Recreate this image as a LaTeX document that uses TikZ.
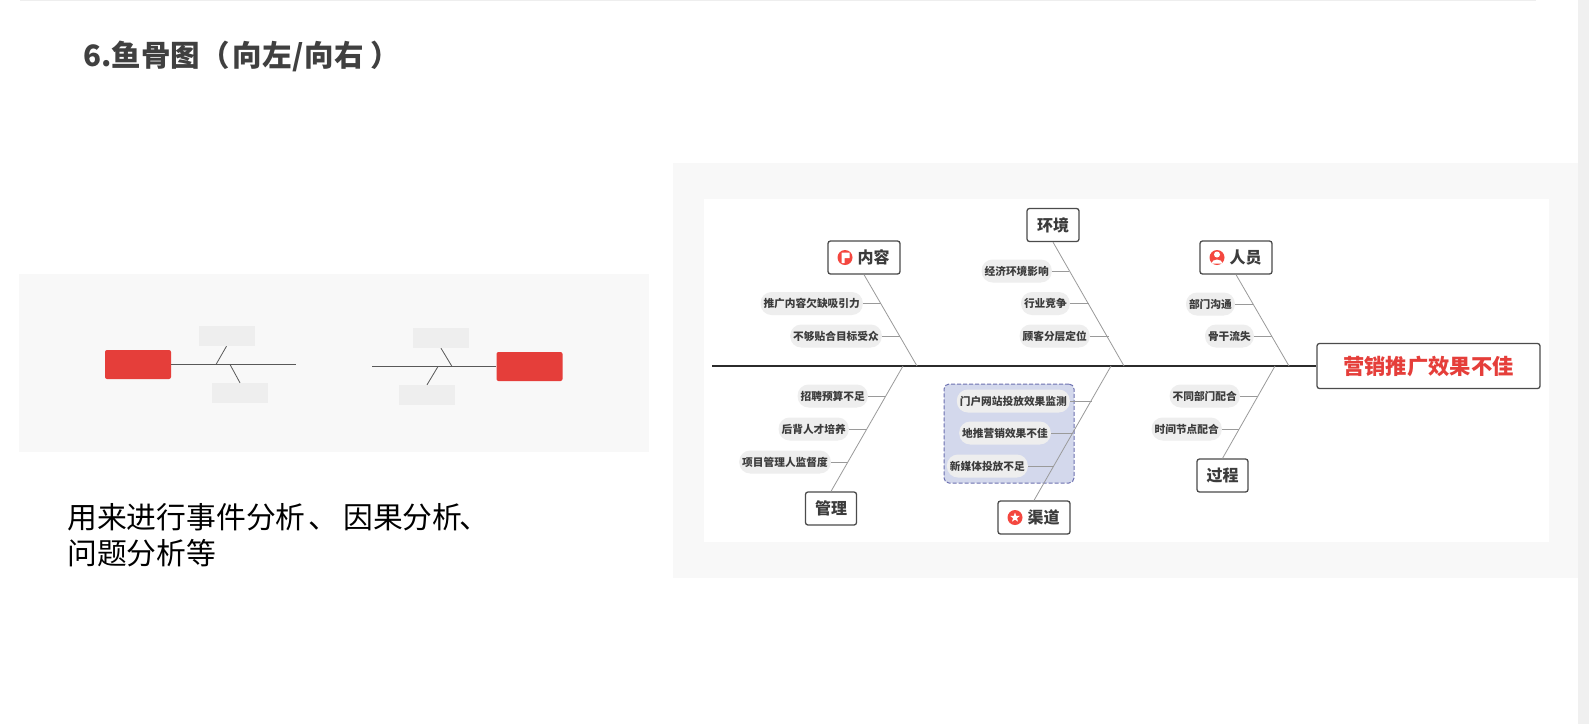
\documentclass[tikz,border=0pt]{standalone}
\usepackage{fontspec}
\setmainfont{Noto Sans CJK SC}
\usetikzlibrary{shapes.geometric}
\definecolor{panelgray}{HTML}{F8F8F8}
\definecolor{barred}{HTML}{E53E3A}
\definecolor{iconred}{HTML}{F4473F}
\definecolor{pillgray}{HTML}{EEEEEE}
\definecolor{bonegray}{HTML}{9A9A9A}
\definecolor{inkdark}{HTML}{2B2B2B}
\definecolor{inksoft}{HTML}{3C3C3C}
\definecolor{dashblue}{HTML}{6C70B0}
\definecolor{dashfill}{HTML}{D3D8EC}

\begin{document}
\begin{tikzpicture}[x=1pt,y=-1pt]
    \tikzset{panel/.style = {fill=panelgray,draw=none}}
    \tikzset{headbox/.style = {shape=rectangle,fill=barred,rounded corners=2pt,minimum width=66pt,minimum height=29pt,inner sep=0pt}}
    \tikzset{blank/.style = {shape=rectangle,fill=pillgray,minimum width=56pt,minimum height=20pt,inner sep=0pt}}
    \tikzset{thin bone/.style = {draw=black!65,line width=0.8pt}}
    \tikzset{thin spine/.style = {draw=black!65,line width=1pt}}
    \tikzset{topic/.style = {shape=rectangle,draw=inkdark!85,fill=white,line width=1.3pt,rounded corners=2.5pt,minimum height=33pt,inner sep=0pt,font=\fontsize{16}{16}\bfseries\selectfont,text=inksoft}}
    \tikzset{pill/.style = {shape=rectangle,fill=pillgray,rounded corners=11pt,minimum height=23pt,inner xsep=3pt,inner ysep=0pt,anchor=east,font=\fontsize{10.7}{11}\bfseries\selectfont,text=inksoft}}
    \tikzset{icon/.style = {shape=circle,fill=iconred,minimum size=15pt,inner sep=0pt}}
    \tikzset{bone/.style = {draw=bonegray,line width=0.8pt}}
    \tikzset{twig/.style = {draw=bonegray,line width=0.8pt}}
    \useasboundingbox (0,0) rectangle (1589,724);

    % page
    \fill[white] (0,0) rectangle (1589,724);
    \fill[pillgray] (20,0) rectangle (1536,1);
    \fill[black!6] (1578,0) rectangle (1589,724);
    \fill[panel] (19,274) rectangle (649,452);
    \fill[panel] (673,163) rectangle (1578,578);
    \fill[white] (704,199) rectangle (1549,542);

    \node[anchor=west,inner sep=0pt,text=black!75,font=\fontsize{29.5}{30}\bfseries\selectfont] (title) at (83,56) {6.鱼骨图（\hspace{3pt}向左\hspace{1pt}/\hspace{1pt}向右\hspace{7pt}）};
    \node[anchor=west,inner sep=0pt,text=black,font=\fontsize{29.8}{36}\selectfont] (lineone) at (67,517) {用来进行事件分析\hspace{3pt}、\hspace{5pt}因果分析\hspace{-3pt}、};
    \node[anchor=west,inner sep=0pt,text=black,font=\fontsize{29.8}{36}\selectfont] (linetwo) at (67,553) {问题分析等};

    % small fishbone, head on the left
    \node[headbox] (lhead) at (138,364.5) {};
    \node[blank] (lup) at (226.5,336) {};
    \node[blank] (ldown) at (240,393) {};
    \coordinate (ltail) at (296,364.5);
    \coordinate (lupfoot) at (216,364.5);
    \coordinate (ldownfoot) at (230,364.5);
    \draw[thin spine] (lhead) to (ltail);
    \draw[thin bone] (lup.south) to (lupfoot);
    \draw[thin bone] (ldown.north) to (ldownfoot);

    % small fishbone, head on the right
    \node[headbox] (rhead) at (529.5,366.5) {};
    \node[blank] (rup) at (441,338) {};
    \node[blank] (rdown) at (427,395) {};
    \coordinate (rtail) at (372,366.5);
    \coordinate (rupfoot) at (452,366.5);
    \coordinate (rdownfoot) at (438,366.5);
    \draw[thin spine] (rtail) to (rhead);
    \draw[thin bone] (rup.south) to (rupfoot);
    \draw[thin bone] (rdown.north) to (rdownfoot);

    % big fishbone
    \node[shape=rectangle,draw=dashblue,fill=dashfill,dash pattern=on 4pt off 2pt,line width=1pt,rounded corners=5pt,minimum width=130pt,minimum height=99pt,inner sep=0pt] (group) at (1009,433.5) {};
    \node[shape=rectangle,draw=black!70,fill=white,line width=1.3pt,rounded corners=2.5pt,minimum width=223pt,minimum height=45pt,inner sep=0pt,text=barred,font=\fontsize{21.3}{22}\bfseries\selectfont] (effect) at (1428.5,366) {营销推广效果不佳};
    \coordinate (tail) at (712,366);
    \draw[draw=inkdark,line width=1.5pt] (tail) to (effect);

    \node[topic,minimum width=72pt] (content) at (864,257.5) {\hspace{19pt}内容};
    \node[icon] (contenticon) at (845,257.5) {};
    \fill[white] (841.5,252.5) -- (849.5,252.5) -- (849.5,258) -- (844.5,258) -- (844.5,263) -- (841.5,263) -- cycle;
    \node[topic,minimum width=52pt] (envir) at (1053,225) {环境};
    \node[topic,minimum width=72pt] (staff) at (1236,257.5) {\hspace{19pt}人员};
    \node[icon] (stafficon) at (1217,257.5) {};
    \fill[white] (1217,254.5) circle (3pt);
    \fill[white] (1211.5,263.5) arc (180:0:5.5pt and 4pt) -- cycle;
    \node[topic,minimum width=51pt] (manage) at (831,508.5) {管理};
    \node[topic,minimum width=72pt] (channel) at (1034,517.5) {\hspace{19pt}渠道};
    \node[icon] (channelicon) at (1015,517.5) {};
    \node[shape=star,star points=5,star point ratio=2.4,fill=white,minimum size=10pt,inner sep=0pt] (channelstar) at (1015,517.5) {};
    \node[topic,minimum width=51pt] (process) at (1222.5,475.5) {过程};

    \coordinate (contentfoot) at (917,366);
    \coordinate (envirfoot) at (1124,366);
    \coordinate (stafffoot) at (1289,366);
    \coordinate (managefoot) at (903,366);
    \coordinate (channelfoot) at (1111,366);
    \coordinate (processfoot) at (1275,366);
    \draw[bone] (content.south) to (contentfoot);
    \draw[bone] (envir.south) to (envirfoot);
    \draw[bone] (staff.south) to (stafffoot);
    \draw[bone] (manage.north) to (managefoot);
    \draw[bone] (channel.north) to (channelfoot);
    \draw[bone] (process.north) to (processfoot);

    \node[pill] (a1) at (863,303.5) {推广内容欠缺吸引力};
    \node[pill] (a2) at (882,336) {不够贴合目标受众};
    \node[pill] (b1) at (1052,271) {经济环境影响};
    \node[pill] (b2) at (1070,303.5) {行业竞争};
    \node[pill] (b3) at (1090,336) {顾客分层定位};
    \node[pill] (c1) at (1235,304) {部门沟通};
    \node[pill] (c2) at (1254,336) {骨干流失};
    \node[pill] (d1) at (868,396) {招聘预算不足};
    \node[pill] (d2) at (849,429) {后背人才培养};
    \node[pill] (d3) at (831,462) {项目管理人监督度};
    \node[pill] (e1) at (1070,401) {门户网站投放效果监测};
    \node[pill] (e2) at (1051,433) {地推营销效果不佳};
    \node[pill] (e3) at (1028,466) {新媒体投放不足};
    \node[pill] (f1) at (1240,396) {不同部门配合};
    \node[pill] (f2) at (1222,429) {时间节点配合};

    \coordinate (a1j) at (881,303.5);
    \coordinate (a2j) at (900,336);
    \coordinate (b1j) at (1069,271);
    \coordinate (b2j) at (1089,303.5);
    \coordinate (b3j) at (1109,336);
    \coordinate (c1j) at (1253,304);
    \coordinate (c2j) at (1272,336);
    \coordinate (d1j) at (886,396);
    \coordinate (d2j) at (867,429);
    \coordinate (d3j) at (848,462);
    \coordinate (e1j) at (1092,401);
    \coordinate (e2j) at (1073,433);
    \coordinate (e3j) at (1054,466);
    \coordinate (f1j) at (1258,396);
    \coordinate (f2j) at (1239,429);
    \draw[twig] (a1) to (a1j);
    \draw[twig] (a2) to (a2j);
    \draw[twig] (b1) to (b1j);
    \draw[twig] (b2) to (b2j);
    \draw[twig] (b3) to (b3j);
    \draw[twig] (c1) to (c1j);
    \draw[twig] (c2) to (c2j);
    \draw[twig] (d1) to (d1j);
    \draw[twig] (d2) to (d2j);
    \draw[twig] (d3) to (d3j);
    \draw[twig] (e1) to (e1j);
    \draw[twig] (e2) to (e2j);
    \draw[twig] (e3) to (e3j);
    \draw[twig] (f1) to (f1j);
    \draw[twig] (f2) to (f2j);
\end{tikzpicture}
\end{document}
